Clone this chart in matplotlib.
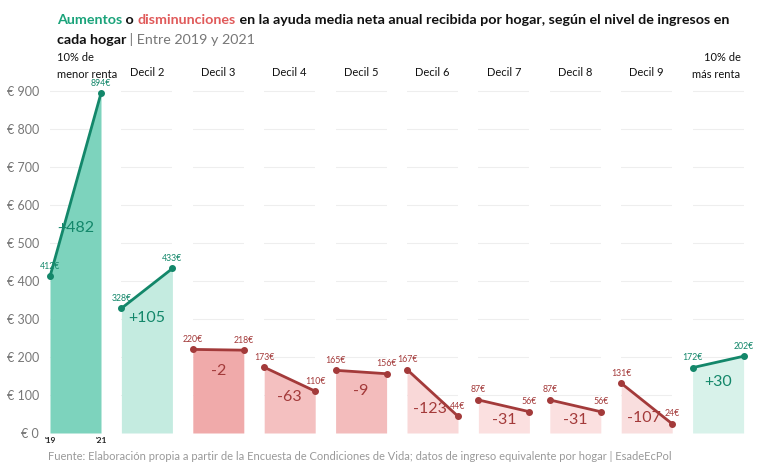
"""
Ayuda media neta anual por hogar según decil de ingresos, 2019 vs 2021.
"""

import matplotlib.pyplot as plt

# Datos
deciles = ['10% de\nmenor renta', 'Decil 2', 'Decil 3', 'Decil 4', 'Decil 5',
           'Decil 6', 'Decil 7', 'Decil 8', 'Decil 9', '10% de\nmás renta']
valores_2019 = [412, 328, 220, 173, 165, 167, 87, 87, 131, 172]
valores_2021 = [894, 433, 218, 110, 156, 44, 56, 56, 24, 202]
anos_labels = ["'19", "'21"]
yticks = [0, 100, 200, 300, 400, 500, 600, 700, 800, 900]

# Estilos
VERDE = '#13876a'
ROJO = '#a33a3a'
VERDE_TXT = '#1aa37a'
ROJO_TXT = '#e05a5a'
cores_relleno = ['#7dd3bd', '#c4ebe0', '#f0aaaa', '#f4c0c0', '#f3bcbc',
                 '#f9d8d8', '#fbe0e0', '#fbe0e0', '#f9dede', '#d8f2ea']

plt.rcParams['font.family'] = ['Lato', 'DejaVu Sans']

W, H = 768, 471
fig = plt.figure(figsize=(W / 100, H / 100), dpi=100)

y0_px, px_per_eur = 433, 0.38
ymax = 930
bottom = 1 - y0_px / H
height = ymax * px_per_eur / H
panel_w = 51
step = 71.4
left0 = 50

for i, nome in enumerate(deciles):
    v0, v1 = valores_2019[i], valores_2021[i]
    cor = VERDE if v1 >= v0 else ROJO
    x_px = left0 + i * step
    ax = fig.add_axes([x_px / W, bottom, panel_w / W, height])
    ax.set_xlim(0, 1)
    ax.set_ylim(0, ymax)
    for yt in yticks[1:]:
        ax.axhline(yt, color='#eeeeee', lw=0.8, zorder=0)
    ax.fill_between([0, 1], [v0, v1], 0, color=cores_relleno[i], lw=0, zorder=1)
    ax.plot([0, 1], [v0, v1], color=cor, lw=2, marker='o', ms=4, zorder=3, clip_on=False)

    ax.annotate(f'{v0}€', (0, v0), xytext=(0, 4), textcoords='offset points',
                ha='center', va='bottom', fontsize=6.3, color=cor, zorder=4)
    ax.annotate(f'{v1}€', (1, v1), xytext=(0, 4), textcoords='offset points',
                ha='center', va='bottom', fontsize=6.3, color=cor, zorder=4)

    dif = v1 - v0
    media = (v0 + v1) / 2
    txt = f'+{dif}' if dif > 0 else f'{dif}'
    ax.text(0.45 if dif < -100 else 0.5, 0.87 * media - 28, txt, ha='center', va='center',
            fontsize=11.5, color=cor, zorder=4)

    for s in ax.spines.values():
        s.set_visible(False)
    ax.tick_params(length=0)
    ax.set_xticks([])
    if i == 0:
        ax.set_yticks(yticks)
        ax.set_yticklabels([f'€ {v}' for v in yticks], fontsize=9, color='#777777')
        ax.tick_params(axis='y', pad=8)
        ax.set_xticks([0, 1])
        ax.set_xticklabels(anos_labels, fontsize=6, color='#222222', fontweight='bold')
        ax.tick_params(axis='x', pad=3)
    else:
        ax.set_yticks([])

    # Cabeceras de cada panel
    if i == 0:
        fig.text(57 / W, 1 - 66 / H, nome, ha='left', va='center', fontsize=8,
                 linespacing=1.7, color='#111111')
    elif i == len(deciles) - 1:
        fig.text((x_px + panel_w - 3) / W, 1 - 66 / H, nome, ha='right', va='center',
                 fontsize=8, linespacing=1.7, color='#111111')
    else:
        fig.text((x_px + panel_w / 2) / W, 1 - 73 / H, nome, ha='center', va='center',
                 fontsize=8, color='#111111')

# Título con partes coloreadas
partes = [('Aumentos', VERDE_TXT, 'bold'), (' o ', '#111111', 'bold'),
          ('disminunciones', ROJO_TXT, 'bold'),
          (' en la ayuda media neta anual recibida por hogar, según el nivel de ingresos en',
           '#111111', 'bold')]
renderer = fig.canvas.get_renderer()
x = 57 / W
for texto, cor, peso in partes:
    t = fig.text(x, 1 - 20 / H, texto, ha='left', va='center', fontsize=10.3,
                 color=cor, fontweight=peso)
    bb = t.get_window_extent(renderer=renderer)
    x = bb.x1 / W
t = fig.text(57 / W, 1 - 40 / H, 'cada hogar', ha='left', va='center', fontsize=10.3,
             color='#111111', fontweight='bold')
bb = t.get_window_extent(renderer=renderer)
fig.text(bb.x1 / W, 1 - 40 / H, ' | Entre 2019 y 2021', ha='left', va='center',
         fontsize=10.3, color='#777777')

# Fuente
fig.text(48 / W, 1 - 457 / H,
         'Fuente: Elaboración propia a partir de la Encuesta de Condiciones de Vida; '
         'datos de ingreso equivalente por hogar | EsadeEcPol',
         ha='left', va='center', fontsize=8, color='#999999')

fig.savefig('out.png', dpi=100, facecolor='white')
